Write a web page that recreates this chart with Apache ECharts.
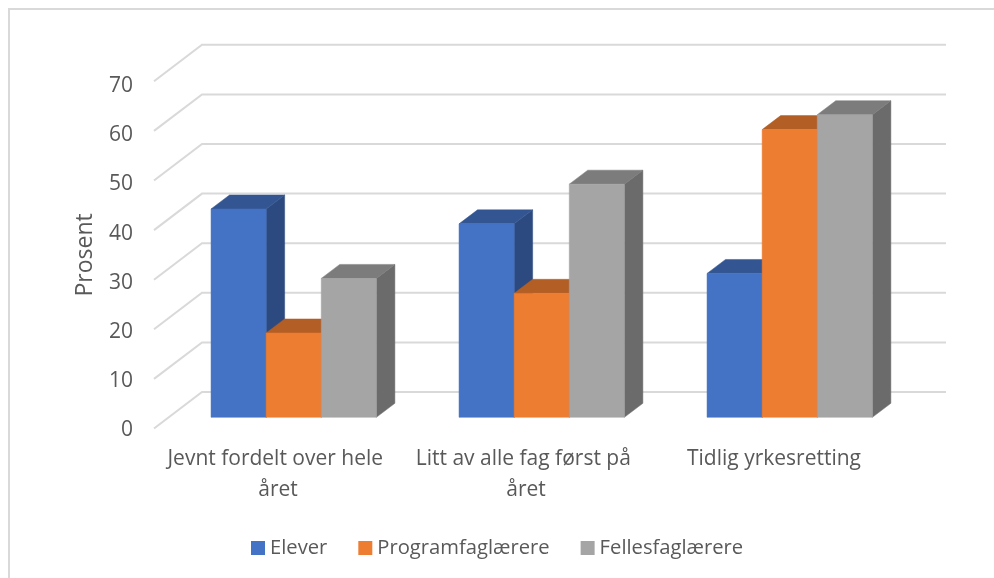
<!DOCTYPE html>
<html>
<head>
<meta charset="utf-8">
<style>html,body{margin:0;padding:0;background:#fff}#c{width:994px;height:578px}</style>
<script src="https://cdn.jsdelivr.net/npm/echarts@6/dist/echarts.min.js"></script>
</head>
<body>
<div id="c"></div>
<script>
const categories = ['Jevnt fordelt over hele året', 'Litt av alle fag først på året', 'Tidlig yrkesretting'];
const elever = [42, 39, 29];
const programfag = [17, 25, 58];
const fellesfag = [28, 47, 61];
const yTicks = [0, 10, 20, 30, 40, 50, 60, 70];

// 3D projection (pixels) of the floor depth
const WALL = [48, -36.5], BAR_FRONT = [15.7, -11.2], BAR_DEPTH = [18.5, -14];
const FONT = '"Open Sans"', TXT = '#595959';

function poly(points, fill) {
  return { type: 'polygon', shape: { points }, style: { fill, stroke: fill, lineWidth: 0.5 } };
}
function barSeries(name, values, seriesIdx, front, top, side) {
  return {
    name, type: 'custom', coordinateSystem: 'cartesian2d', z: 3 + seriesIdx,
    itemStyle: { color: front },
    data: values.map((v, i) => [i, v]),
    renderItem(params, api) {
      const catW = api.size([1, 0])[0], w = catW * 0.2222;
      const p = api.coord([api.value(0), api.value(1)]), p0 = api.coord([api.value(0), 0]);
      const x0 = p[0] - 1.5 * w + seriesIdx * w + BAR_FRONT[0], x1 = x0 + w;
      const yt = p[1] + BAR_FRONT[1], yb = p0[1] + BAR_FRONT[1];
      const dx = BAR_DEPTH[0], dy = BAR_DEPTH[1];
      return { type: 'group', children: [
        poly([[x1, yt], [x1 + dx, yt + dy], [x1 + dx, yb + dy], [x1, yb]], side),
        poly([[x0, yt], [x0 + dx, yt + dy], [x1 + dx, yt + dy], [x1, yt]], top),
        poly([[x0, yt], [x1, yt], [x1, yb], [x0, yb]], front)
      ]};
    }
  };
}

const chart = echarts.init(document.getElementById('c'), null, { renderer: 'canvas' });
chart.setOption({
  animation: false,
  backgroundColor: '#fff',
  graphic: [{ type: 'polyline', silent: true, shape: { points: [[9, 578], [9, 9], [994, 9]] },
    style: { stroke: '#d9d9d9', lineWidth: 2, fill: null } }],
  grid: [
    { left: 154, width: 744, top: 81.3, height: 347.2 },
    { left: 154, width: 744, top: 86, height: 344.5 }
  ],
  xAxis: [{
    type: 'category', data: categories,
    axisLine: { show: false }, axisTick: { show: false },
    axisLabel: { color: TXT, fontFamily: FONT, fontSize: 21, lineHeight: 31, margin: 15, width: 240, overflow: 'break', interval: 0 }
  }, {
    gridIndex: 1, type: 'category', data: categories, show: false
  }],
  yAxis: [{
    type: 'value', min: 0, max: 70, interval: 10,
    name: 'Prosent', nameLocation: 'middle', nameGap: 57, nameRotate: 90,
    nameTextStyle: { color: TXT, fontFamily: FONT, fontSize: 23 },
    axisLine: { show: false }, axisTick: { show: false }, splitLine: { show: false },
    axisLabel: { show: false }
  }, {
    gridIndex: 1, type: 'value', min: 0, max: 70, interval: 10,
    axisLine: { show: false }, axisTick: { show: false }, splitLine: { show: false },
    axisLabel: { color: TXT, fontFamily: FONT, fontSize: 21, margin: 21 }
  }],
  legend: {
    left: 246, top: 533, itemWidth: 14, itemHeight: 14, itemGap: 31, icon: 'rect',
    data: ['Elever', 'Programfaglærere', 'Fellesfaglærere'],
    textStyle: { color: TXT, fontFamily: FONT, fontSize: 20.2 }
  },
  series: [
    {
      type: 'custom', coordinateSystem: 'cartesian2d', z: 1, silent: true,
      data: yTicks.map(v => [0, v]),
      renderItem(params, api) {
        const cs = params.coordSys, y = api.coord([0, api.value(1)])[1];
        const xb = cs.x + WALL[0], yb = y + WALL[1];
        return { type: 'polyline', shape: { points: [[cs.x, y], [xb, yb], [xb + cs.width, yb]] },
          style: { stroke: '#d9d9d9', lineWidth: 2, fill: null } };
      }
    },
    barSeries('Elever', elever, 0, '#4472C4', '#335693', '#2C4A7F'),
    barSeries('Programfaglærere', programfag, 1, '#ED7D31', '#B25E25', '#9A5120'),
    barSeries('Fellesfaglærere', fellesfag, 2, '#A5A5A5', '#7C7C7C', '#6B6B6B')
  ]
});
</script>
</body>
</html>
